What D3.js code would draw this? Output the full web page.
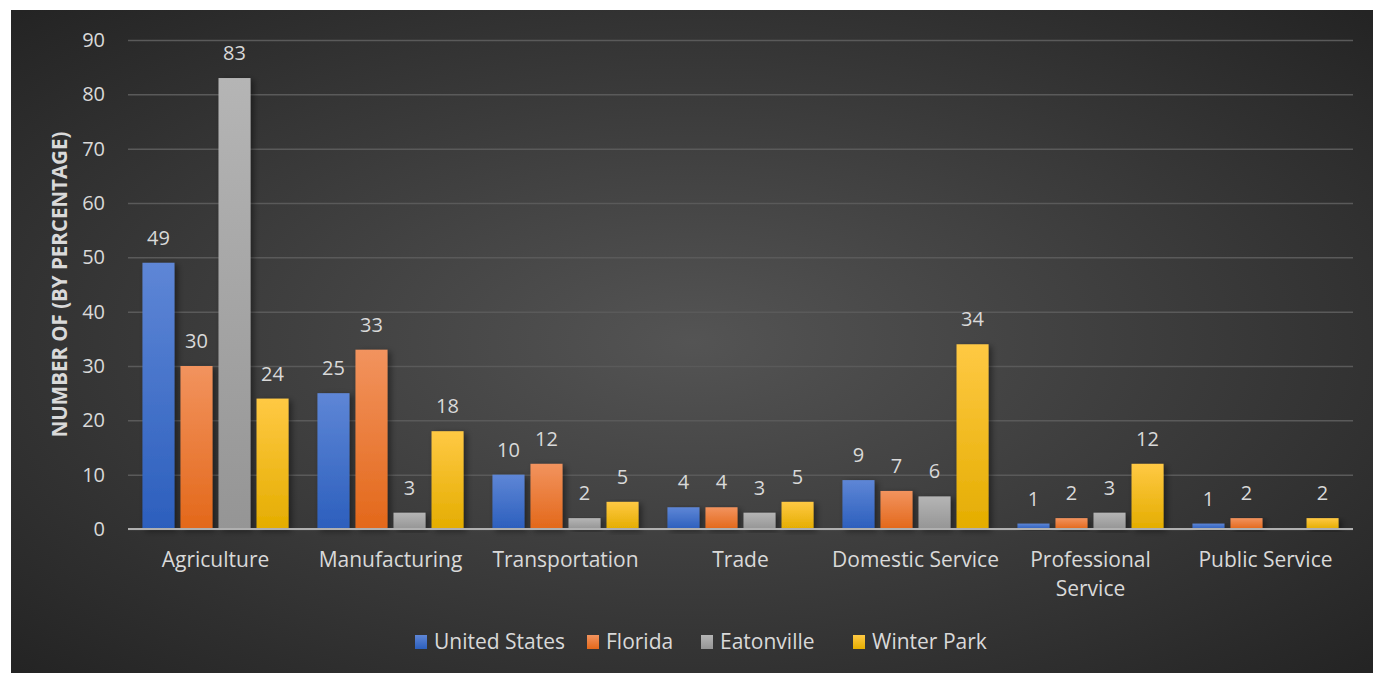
<!DOCTYPE html>
<html><head><meta charset="utf-8">
<script src="https://cdn.jsdelivr.net/npm/d3@7"></script>
<style>html,body{margin:0;padding:0;background:#fff;}svg{display:block;}</style>
</head><body>
<svg id="chart" width="1373" height="673"></svg>
<script>
const categories = ["Agriculture","Manufacturing","Transportation","Trade","Domestic Service","Professional Service","Public Service"];
const seriesNames = ["United States","Florida","Eatonville","Winter Park"];
const unitedStates = [49,25,10,4,9,1,1];
const florida = [30,33,12,4,7,2,2];
const eatonville = [83,3,2,3,6,3,null];
const winterPark = [24,18,5,5,34,12,2];
const yTicks = [0,10,20,30,40,50,60,70,80,90];
const seriesValues = [unitedStates, florida, eatonville, winterPark];
const colors = [["#5e86d6","#2c5fbd"],["#f2935e","#e3681a"],["#b5b5b5","#959595"],["#ffc944","#e4ad00"]];

const svg = d3.select("#chart");
const W = 1373, H = 673;
const defs = svg.append("defs");
const bg = defs.append("radialGradient").attr("id","bg").attr("cx","50%").attr("cy","50%").attr("r","70%");
bg.append("stop").attr("offset","0%").attr("stop-color","#545454");
bg.append("stop").attr("offset","100%").attr("stop-color","#242424");
colors.forEach((c,i)=>{
  const g = defs.append("linearGradient").attr("id","g"+i).attr("x1",0).attr("y1",0).attr("x2",0).attr("y2",1);
  g.append("stop").attr("offset","0%").attr("stop-color",c[0]);
  g.append("stop").attr("offset","100%").attr("stop-color",c[1]);
});
const sh = defs.append("filter").attr("id","sh").attr("x","-20%").attr("y","-10%").attr("width","160%").attr("height","130%");
sh.append("feDropShadow").attr("dx",3).attr("dy",2).attr("stdDeviation",3).attr("flood-color","#000").attr("flood-opacity",0.45);

svg.append("rect").attr("x",11).attr("y",10).attr("width",W-11).attr("height",H-10).attr("fill","url(#bg)");

const m = {left:128, right:1353, top:40, bottom:529};
const x = d3.scaleBand().domain(categories).range([m.left,m.right]).paddingInner(0).paddingOuter(0);
const xi = d3.scaleBand().domain(seriesNames).range([0,x.bandwidth()]).paddingInner(0.158).paddingOuter(0.38);
const y = d3.scaleLinear().domain([0,90]).range([m.bottom,m.top]);

const font = "'Open Sans', 'Noto Sans', sans-serif";

// gridlines
const yAxis = d3.axisLeft(y).tickValues(yTicks).tickSize(-(m.right-m.left)).tickFormat(d3.format("d")).tickPadding(23);
const ga = svg.append("g").attr("transform",`translate(${m.left},0)`).call(yAxis);
ga.select(".domain").remove();
ga.selectAll(".tick line").attr("stroke","#5a5a5a").attr("stroke-width",1.5);
ga.selectAll(".tick text").attr("fill","#d9d9d9").style("font-family",font).style("font-size","20px");

// bars
const groups = svg.append("g").selectAll("g").data(categories).join("g")
  .attr("transform",d=>`translate(${x(d)},0)`);
seriesNames.forEach((s,si)=>{
  groups.each(function(c,ci){
    const v = seriesValues[si][ci];
    if (v==null) return;
    const g = d3.select(this);
    g.append("rect").attr("x",xi(s)).attr("y",y(v)).attr("width",xi.bandwidth()).attr("height",y(0)-y(v))
      .attr("fill",`url(#g${si})`).attr("filter","url(#sh)");
    g.append("text").attr("x",xi(s)+xi.bandwidth()/2).attr("y",y(v)-18).attr("text-anchor","middle")
      .attr("fill","#d9d9d9").style("font-family",font).style("font-size","20px").text(v);
  });
});

// x axis line
svg.append("line").attr("x1",m.left).attr("x2",m.right).attr("y1",y(0)).attr("y2",y(0)).attr("stroke","#b0b0b0").attr("stroke-width",2);

// x labels
const xl = svg.append("g");
categories.forEach(c=>{
  const lines = c==="Professional Service" ? ["Professional","Service"] : [c];
  const t = xl.append("text").attr("x",x(c)+x.bandwidth()/2).attr("y",567).attr("text-anchor","middle")
    .attr("fill","#d9d9d9").style("font-family",font).style("font-size","21px");
  lines.forEach((l,i)=>t.append("tspan").attr("x",x(c)+x.bandwidth()/2).attr("dy",i?29:0).text(l));
});

// y title
svg.append("text").attr("transform",`translate(67,${(m.top+m.bottom)/2}) rotate(-90)`).attr("text-anchor","middle")
  .attr("fill","#d9d9d9").style("font-family",font).style("font-size","20.5px").style("font-weight","bold")
  .text("NUMBER OF (BY PERCENTAGE)");

// legend
const legendX = [415,587,701,853];
const lg = svg.append("g");
seriesNames.forEach((s,i)=>{
  lg.append("rect").attr("x",legendX[i]).attr("y",635).attr("width",12).attr("height",14).attr("fill",`url(#g${i})`);
  lg.append("text").attr("x",legendX[i]+19).attr("y",649).attr("fill","#d9d9d9").style("font-family",font).style("font-size","21px").text(s);
});
</script>
</body></html>
